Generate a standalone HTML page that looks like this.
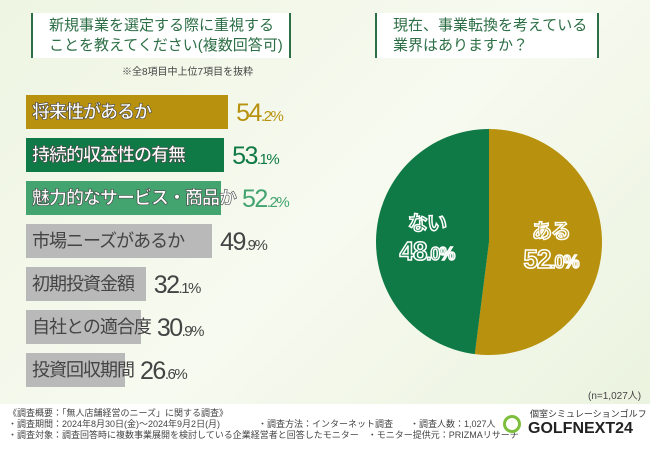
<!DOCTYPE html>
<html><head><meta charset="utf-8"><style>
body{margin:0;width:650px;height:450px;overflow:hidden;font-family:"Liberation Sans","Noto Sans CJK JP",sans-serif;}
#root{position:relative;width:650px;height:450px;background:linear-gradient(135deg,#eef5e2,#f7faf0 50%,#eaf3de);overflow:hidden}
.tbox{position:absolute;background:#fff;border-left:2px solid #2c6e45;border-right:2px solid #2c6e45;color:#2c6e45;font-size:15px;line-height:20px;padding:3px 0 0 16px;box-sizing:border-box}
.bar{position:absolute;left:26px;height:34px}
.lbl{position:absolute;left:32px;height:34px;line-height:34px;font-size:18px;white-space:nowrap;letter-spacing:-1px}
.lbl.c{color:#fff;font-weight:bold;-webkit-text-stroke:0.6px #444}
.lbl.g{color:#444}
.val{position:absolute;height:34px;line-height:36px;font-size:25px;white-space:nowrap;letter-spacing:-1.5px}
.val small{font-size:15px}
.foot{position:absolute;left:0;top:404px;width:650px;height:46px;background:#fff;font-size:9px;color:#444;line-height:11px}
</style></head><body>
<div id="root">
<div class="tbox" style="left:31px;top:13px;width:260px;height:45px">新規事業を選定する際に重視する<br>ことを教えてください(複数回答可)</div>
<div style="position:absolute;left:122px;top:63px;font-size:10px;color:#444">※全8項目中上位7項目を抜粋</div>
<div class="tbox" style="left:375px;top:13px;width:224px;height:45px">現在、事業転換を考えている<br>業界はありますか？</div>
<div id="bars"></div>
<svg id="pie" width="650" height="450" style="position:absolute;left:0;top:0"></svg>
<div style="position:absolute;left:588px;top:387px;font-size:10px;color:#444">(n=1,027人)</div>
<div class="foot">
<div style="position:absolute;left:8px;top:4px">《調査概要：「無人店舗経営のニーズ」に関する調査》<br>・調査期間：2024年8月30日(金)〜2024年9月2日(月)<br>・調査対象：調査回答時に複数事業展開を検討している企業経営者と回答したモニター　・モニター提供元：PRIZMAリサーチ</div>
<div style="position:absolute;left:258px;top:15px">・調査方法：インターネット調査</div>
<div style="position:absolute;left:410px;top:15px">・調査人数：1,027人</div>
<div style="position:absolute;left:503px;top:11px;width:18px;height:18px;border-radius:50%;border:3px solid #7bbf3a;box-sizing:border-box"></div>
<div style="position:absolute;left:530px;top:5px;font-size:9px;color:#333">個室シミュレーションゴルフ</div>
<div style="position:absolute;left:528px;top:19px;font-size:16px;font-weight:bold;color:#222;letter-spacing:0">GOLFNEXT24</div>
</div>
</div>
<script>
const categories=["将来性があるか","持続的収益性の有無","魅力的なサービス・商品か","市場ニーズがあるか","初期投資金額","自社との適合度","投資回収期間"];
const values=[54.2,53.1,52.2,49.9,32.1,30.9,26.6];
const pieLabels=["ある","ない"];
const pieValues=[52.0,48.0];
const barColors=["#b8920e","#0f7a45","#43a46f","#b9b9b9","#b9b9b9","#b9b9b9","#b9b9b9"];
const valColors=["#b8920e","#0f7a45","#43a46f","#444","#444","#444","#444"];
const x=v=>v*3.73;
const yPos=i=>95+i*43;
const host=document.getElementById('bars');
categories.forEach((c,i)=>{
  const b=document.createElement('div');b.className='bar';
  
  
  b.style.top=yPos(i)+'px';b.style.width=x(values[i])+'px';b.style.background=barColors[i];host.appendChild(b);
  const l=document.createElement('div');l.className='lbl '+(i<3?'c':'g');
  
  
  l.style.top=yPos(i)+'px';l.textContent=c;host.appendChild(l);
  const w=document.createElement('div');w.className='val';
  
  
  const s=values[i].toFixed(1).split('.');
  w.innerHTML=s[0]+'<small>.'+s[1]+'%</small>';
  const labelEnd=32+l.getBoundingClientRect().width;
  const left=Math.max(26+x(values[i])+8,labelEnd+6);
  w.style.left=left+'px';w.style.top=yPos(i)+'px';w.style.color=valColors[i];host.appendChild(w);
});
const svg=document.getElementById('pie');const NS='http://www.w3.org/2000/svg';
const cx=489,cy=242,r=113,pieColors=["#b8920e","#0f7a45"];
const tot=pieValues.reduce((a,b)=>a+b,0);let a0=-Math.PI/2;
pieValues.forEach((v,i)=>{
  const a1=a0+v/tot*2*Math.PI;
  const p=document.createElementNS(NS,'path');
  
  
  const large=(a1-a0)>Math.PI?1:0;
  p.setAttribute('d',`M${cx},${cy} L${cx+r*Math.cos(a0)},${cy+r*Math.sin(a0)} A${r},${r} 0 ${large} 1 ${cx+r*Math.cos(a1)},${cy+r*Math.sin(a1)} Z`);
  p.setAttribute('fill',pieColors[i]);svg.appendChild(p);
  const am=(a0+a1)/2,lx=cx+r*0.55*Math.cos(am),ly=cy+r*0.55*Math.sin(am);
  const s=v.toFixed(1).split('.');
  [[pieLabels[i],ly-8,20,null],[s[0],ly+22,26,'.'+s[1]+'%']].forEach((t,k)=>{
    const tx=document.createElementNS(NS,'text');
    
    
    tx.setAttribute('x',lx);tx.setAttribute('y',t[1]);tx.setAttribute('text-anchor','middle');
    tx.setAttribute('font-size',t[2]);tx.setAttribute('font-weight','bold');tx.setAttribute('letter-spacing','-1');
    tx.setAttribute('fill',pieColors[i]);tx.setAttribute('stroke','#fff');tx.setAttribute('stroke-width','1.5');
    tx.setAttribute('font-family','"Liberation Sans","Noto Sans CJK JP",sans-serif');
    tx.textContent=t[0];
    if(t[3]){const ts=document.createElementNS(NS,'tspan');ts.setAttribute('font-size','18');ts.textContent=t[3];tx.appendChild(ts);}
    svg.appendChild(tx);
  });
  a0=a1;
});
</script>
</body></html>
